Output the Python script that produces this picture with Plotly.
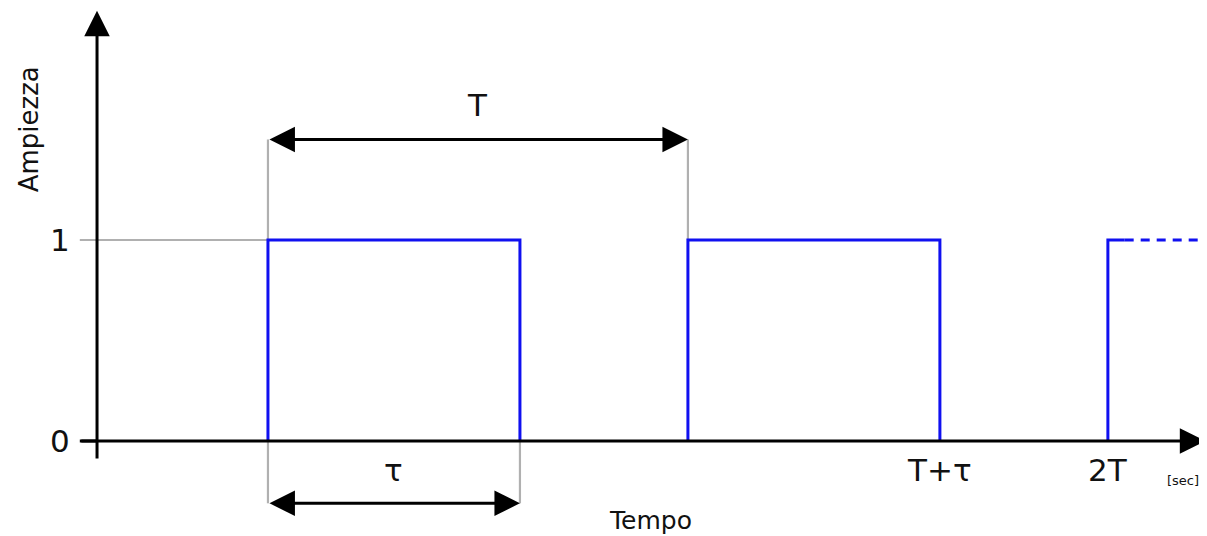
import plotly.graph_objects as go

# Signal parameters (period T = 1, pulse width tau = 0.6)
period = 1.0
tau = 0.6
pulse_starts = [0.0, 1.0, 2.0]
pulse_ends = [0.6, 1.6, 2.04]     # last pulse is cut off, continues dashed
amp_levels = [0, 1]
amp_labels = ["0", "1"]
time_ticks = [1.6, 2.0]
time_tick_labels = ["T+τ", "2T"]

# the page body has an 8px margin, so the figure is 8px smaller than the window
x_range = [-0.619, 2.236]
y_range = [-0.4726, 2.154]
y_axis_x = -0.407

blue = "#1010f0"
grey = "#b0b0b0"
font = "DejaVu Sans"

fig = go.Figure()

# gray reference lines
fig.add_trace(go.Scatter(
    x=[-0.448, 0, None, 0, 0, None, period, period, None, 0, 0, None, tau, tau],
    y=[1, 1, None, 1, 1.5, None, 1, 1.5, None, 0, -0.31, None, 0, -0.31],
    mode="lines", line=dict(color=grey, width=2.2), hoverinfo="skip", showlegend=False
))

# pulses
xs, ys = [], []
for i, (s, e) in enumerate(zip(pulse_starts, pulse_ends)):
    if i < len(pulse_starts) - 1:
        xs += [s, s, e, e, None]
        ys += [0, 1, 1, 0, None]
    else:
        xs += [s, s, e, None]
        ys += [0, 1, 1, None]
fig.add_trace(go.Scatter(x=xs, y=ys, mode="lines", line=dict(color=blue, width=3),
                         hoverinfo="skip", showlegend=False))
fig.add_trace(go.Scatter(x=[pulse_ends[-1], x_range[1]], y=[1, 1], mode="lines",
                         line=dict(color=blue, width=3, dash="9px,7px"),
                         hoverinfo="skip", showlegend=False))

# axis tick stub at origin
fig.add_trace(go.Scatter(x=[-0.448, y_axis_x], y=[0, 0], mode="lines",
                         line=dict(color="black", width=3), hoverinfo="skip", showlegend=False))


def arrow(x0, y0, x1, y1, both=False):
    fig.add_annotation(
        x=x1, y=y1, ax=x0, ay=y0, xref="x", yref="y", axref="x", ayref="y",
        showarrow=True, arrowhead=2, startarrowhead=2, arrowsize=1.7, startarrowsize=1.7,
        arrowwidth=3, arrowcolor="black", arrowside="end+start" if both else "end",
        text=""
    )


# axes
arrow(y_axis_x, -0.095, y_axis_x, 2.14)
arrow(-0.448, 0, 2.232, 0)
# dimension arrows
arrow(0, 1.5, period, 1.5, both=True)
arrow(0, -0.31, tau, -0.31, both=True)


def label(x, y, text, size, angle=0):
    fig.add_annotation(x=x, y=y, xref="x", yref="y", text=text, showarrow=False,
                       textangle=angle, font=dict(family=font, size=size, color="#111"))


for lv, lb in zip(amp_levels, amp_labels):
    label(-0.495, lv, lb, 31)
for tv, tl in zip(time_ticks, time_tick_labels):
    label(tv, -0.144, tl, 31)
label(period / 2, 1.67, "T", 31)
label(tau / 2, -0.144, "τ", 31)
label(2.178, -0.194, "[sec]", 13)
label(0.91, -0.393, "Tempo", 25)
label(-0.567, 1.55, "Ampiezza", 26, angle=-90)

fig.update_layout(
    width=1199, height=528,
    margin=dict(l=0, r=0, t=0, b=0),
    plot_bgcolor="white", paper_bgcolor="white",
    xaxis=dict(visible=False, range=x_range, fixedrange=True),
    yaxis=dict(visible=False, range=y_range, fixedrange=True),
    showlegend=False
)

fig.write_html("out.html")
